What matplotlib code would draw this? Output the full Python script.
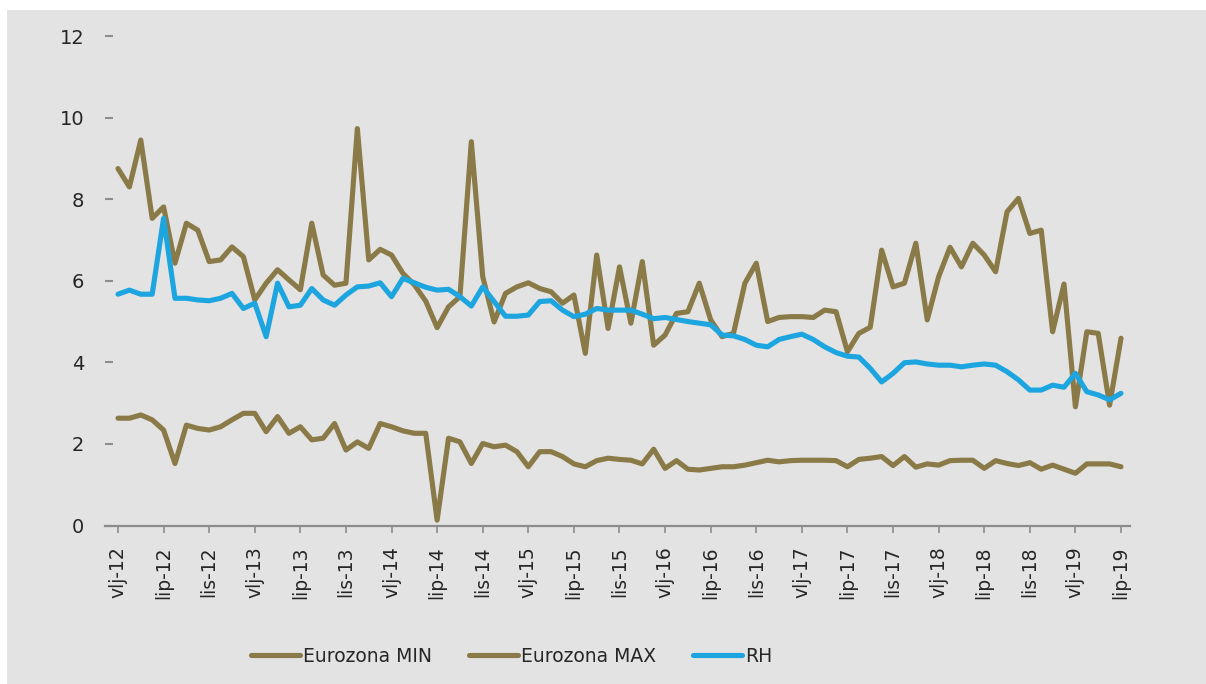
import matplotlib
matplotlib.use("Agg")
import matplotlib.pyplot as plt
from matplotlib.patches import Rectangle
import numpy as np

# ---- data (monthly, Feb 2012 .. Jun 2019) ----
tick_labels = ["vlj-12", "lip-12", "lis-12", "vlj-13", "lip-13", "lis-13",
               "vlj-14", "lip-14", "lis-14", "vlj-15", "lip-15", "lis-15",
               "vlj-16", "lip-16", "lis-16", "vlj-17", "lip-17", "lis-17",
               "vlj-18", "lip-18", "lis-18", "vlj-19", "lip-19"]

eur_max = [8.75, 8.30, 9.45, 7.53, 7.81, 6.43, 7.41, 7.24, 6.47, 6.51,
           6.83, 6.59, 5.53, 5.94, 6.27, 6.02, 5.78, 7.41, 6.14, 5.89,
           5.94, 9.73, 6.51, 6.77, 6.63, 6.18, 5.90, 5.50, 4.85, 5.36,
           5.61, 9.41, 6.10, 4.99, 5.69, 5.85, 5.95, 5.81, 5.73, 5.45,
           5.65, 4.22, 6.63, 4.83, 6.34, 4.96, 6.47, 4.42, 4.67, 5.20,
           5.24, 5.94, 5.04, 4.63, 4.71, 5.94, 6.43, 5.00, 5.10, 5.12,
           5.12, 5.10, 5.28, 5.24, 4.26, 4.71, 4.86, 6.75, 5.85, 5.94,
           6.92, 5.04, 6.10, 6.82, 6.34, 6.92, 6.63, 6.22, 7.69, 8.02,
           7.16, 7.24, 4.75, 5.92, 2.91, 4.75, 4.71, 2.95, 4.59]

eur_min = [2.63, 2.63, 2.71, 2.59, 2.34, 1.52, 2.46, 2.38, 2.34, 2.42,
           2.59, 2.75, 2.75, 2.30, 2.67, 2.26, 2.42, 2.10, 2.14, 2.50,
           1.85, 2.05, 1.89, 2.50, 2.42, 2.32, 2.26, 2.26, 0.13, 2.14,
           2.05, 1.52, 2.01, 1.93, 1.97, 1.81, 1.44, 1.81, 1.81, 1.69,
           1.51, 1.44, 1.59, 1.65, 1.62, 1.60, 1.51, 1.87, 1.40, 1.59,
           1.38, 1.36, 1.40, 1.44, 1.44, 1.48, 1.54, 1.60, 1.56, 1.59,
           1.60, 1.60, 1.60, 1.59, 1.44, 1.62, 1.65, 1.69, 1.47, 1.69,
           1.43, 1.51, 1.48, 1.59, 1.60, 1.60, 1.40, 1.59, 1.52, 1.47,
           1.54, 1.38, 1.48, 1.38, 1.28, 1.51, 1.51, 1.51, 1.44]

rh = [5.67, 5.77, 5.67, 5.67, 7.53, 5.57, 5.57, 5.53, 5.51, 5.57,
      5.69, 5.32, 5.45, 4.63, 5.94, 5.36, 5.40, 5.81, 5.53, 5.40,
      5.65, 5.85, 5.87, 5.95, 5.61, 6.06, 5.95, 5.84, 5.77, 5.79,
      5.61, 5.38, 5.85, 5.49, 5.13, 5.13, 5.16, 5.49, 5.51, 5.28,
      5.12, 5.18, 5.32, 5.28, 5.28, 5.28, 5.18, 5.07, 5.10, 5.05,
      5.00, 4.96, 4.92, 4.67, 4.65, 4.56, 4.42, 4.38, 4.56, 4.63,
      4.69, 4.56, 4.38, 4.24, 4.15, 4.13, 3.85, 3.52, 3.73, 3.99,
      4.01, 3.96, 3.93, 3.93, 3.89, 3.93, 3.96, 3.93, 3.77, 3.57,
      3.32, 3.32, 3.44, 3.39, 3.73, 3.28, 3.20, 3.08, 3.24]

series_names = ["Eurozona MIN", "Eurozona MAX", "RH"]
y_ticks = [0, 2, 4, 6, 8, 10, 12]

# ---- styling ----
OLIVE = "#8a7a47"
BLUE = "#1da5e0"
BG = "#e3e3e3"
AXIS = "#8c8c8c"
TXT = "#262626"
FONT = "DejaVu Sans"

W, H = 1206, 684
fig = plt.figure(figsize=(W / 100, H / 100), dpi=100, facecolor="white")
fig.patches.append(Rectangle((7 / W, 0), 1 - 7 / W, (H - 10) / H,
                             transform=fig.transFigure, facecolor=BG,
                             edgecolor="none", zorder=-10))

left_px, right_px = 105, 1130
y0_px, y12_px = 525.5, 36
ax = fig.add_axes([left_px / W, (H - y0_px) / H,
                   (right_px - left_px) / W, (y0_px - y12_px) / H])
ax.set_facecolor("none")

x = np.arange(len(rh))
lw = 3.7
ax.plot(x, eur_min, color=OLIVE, lw=lw, solid_joinstyle="round",
        solid_capstyle="round", label=series_names[0], zorder=3)
ax.plot(x, eur_max, color=OLIVE, lw=lw, solid_joinstyle="round",
        solid_capstyle="round", label=series_names[1], zorder=3)
ax.plot(x, rh, color=BLUE, lw=lw, solid_joinstyle="round",
        solid_capstyle="round", label=series_names[2], zorder=4)

px_per_month = 11.4
ax.set_xlim(-(118 - left_px) / px_per_month, 88 + (right_px - 1121) / px_per_month)
ax.set_ylim(0, 12)

for s in ["top", "right", "left"]:
    ax.spines[s].set_visible(False)
ax.spines["bottom"].set_color(AXIS)
ax.spines["bottom"].set_linewidth(1.6)

ax.set_xticks(np.arange(0, len(rh), 4))
ax.set_xticklabels(tick_labels, rotation=90, fontsize=13.5, color=TXT,
                   family=FONT)
ax.tick_params(axis="x", direction="out", length=5, width=1.2, color=AXIS, pad=10)

ax.set_yticks(y_ticks)
ax.set_yticklabels([str(v) for v in y_ticks], fontsize=14, color=TXT,
                   family=FONT)
ax.tick_params(axis="y", direction="in", length=6, width=1.5, color=AXIS, pad=15)

fig.legend(loc="center left", bbox_to_anchor=(251 / W, (H - 656) / H),
           ncol=3, frameon=False, borderpad=0, borderaxespad=0,
           handlelength=2.6, handletextpad=0.15, columnspacing=2.0,
           prop={"family": FONT, "size": 13.5}, labelcolor=TXT)

fig.savefig("out.png", dpi=100, facecolor="white")
